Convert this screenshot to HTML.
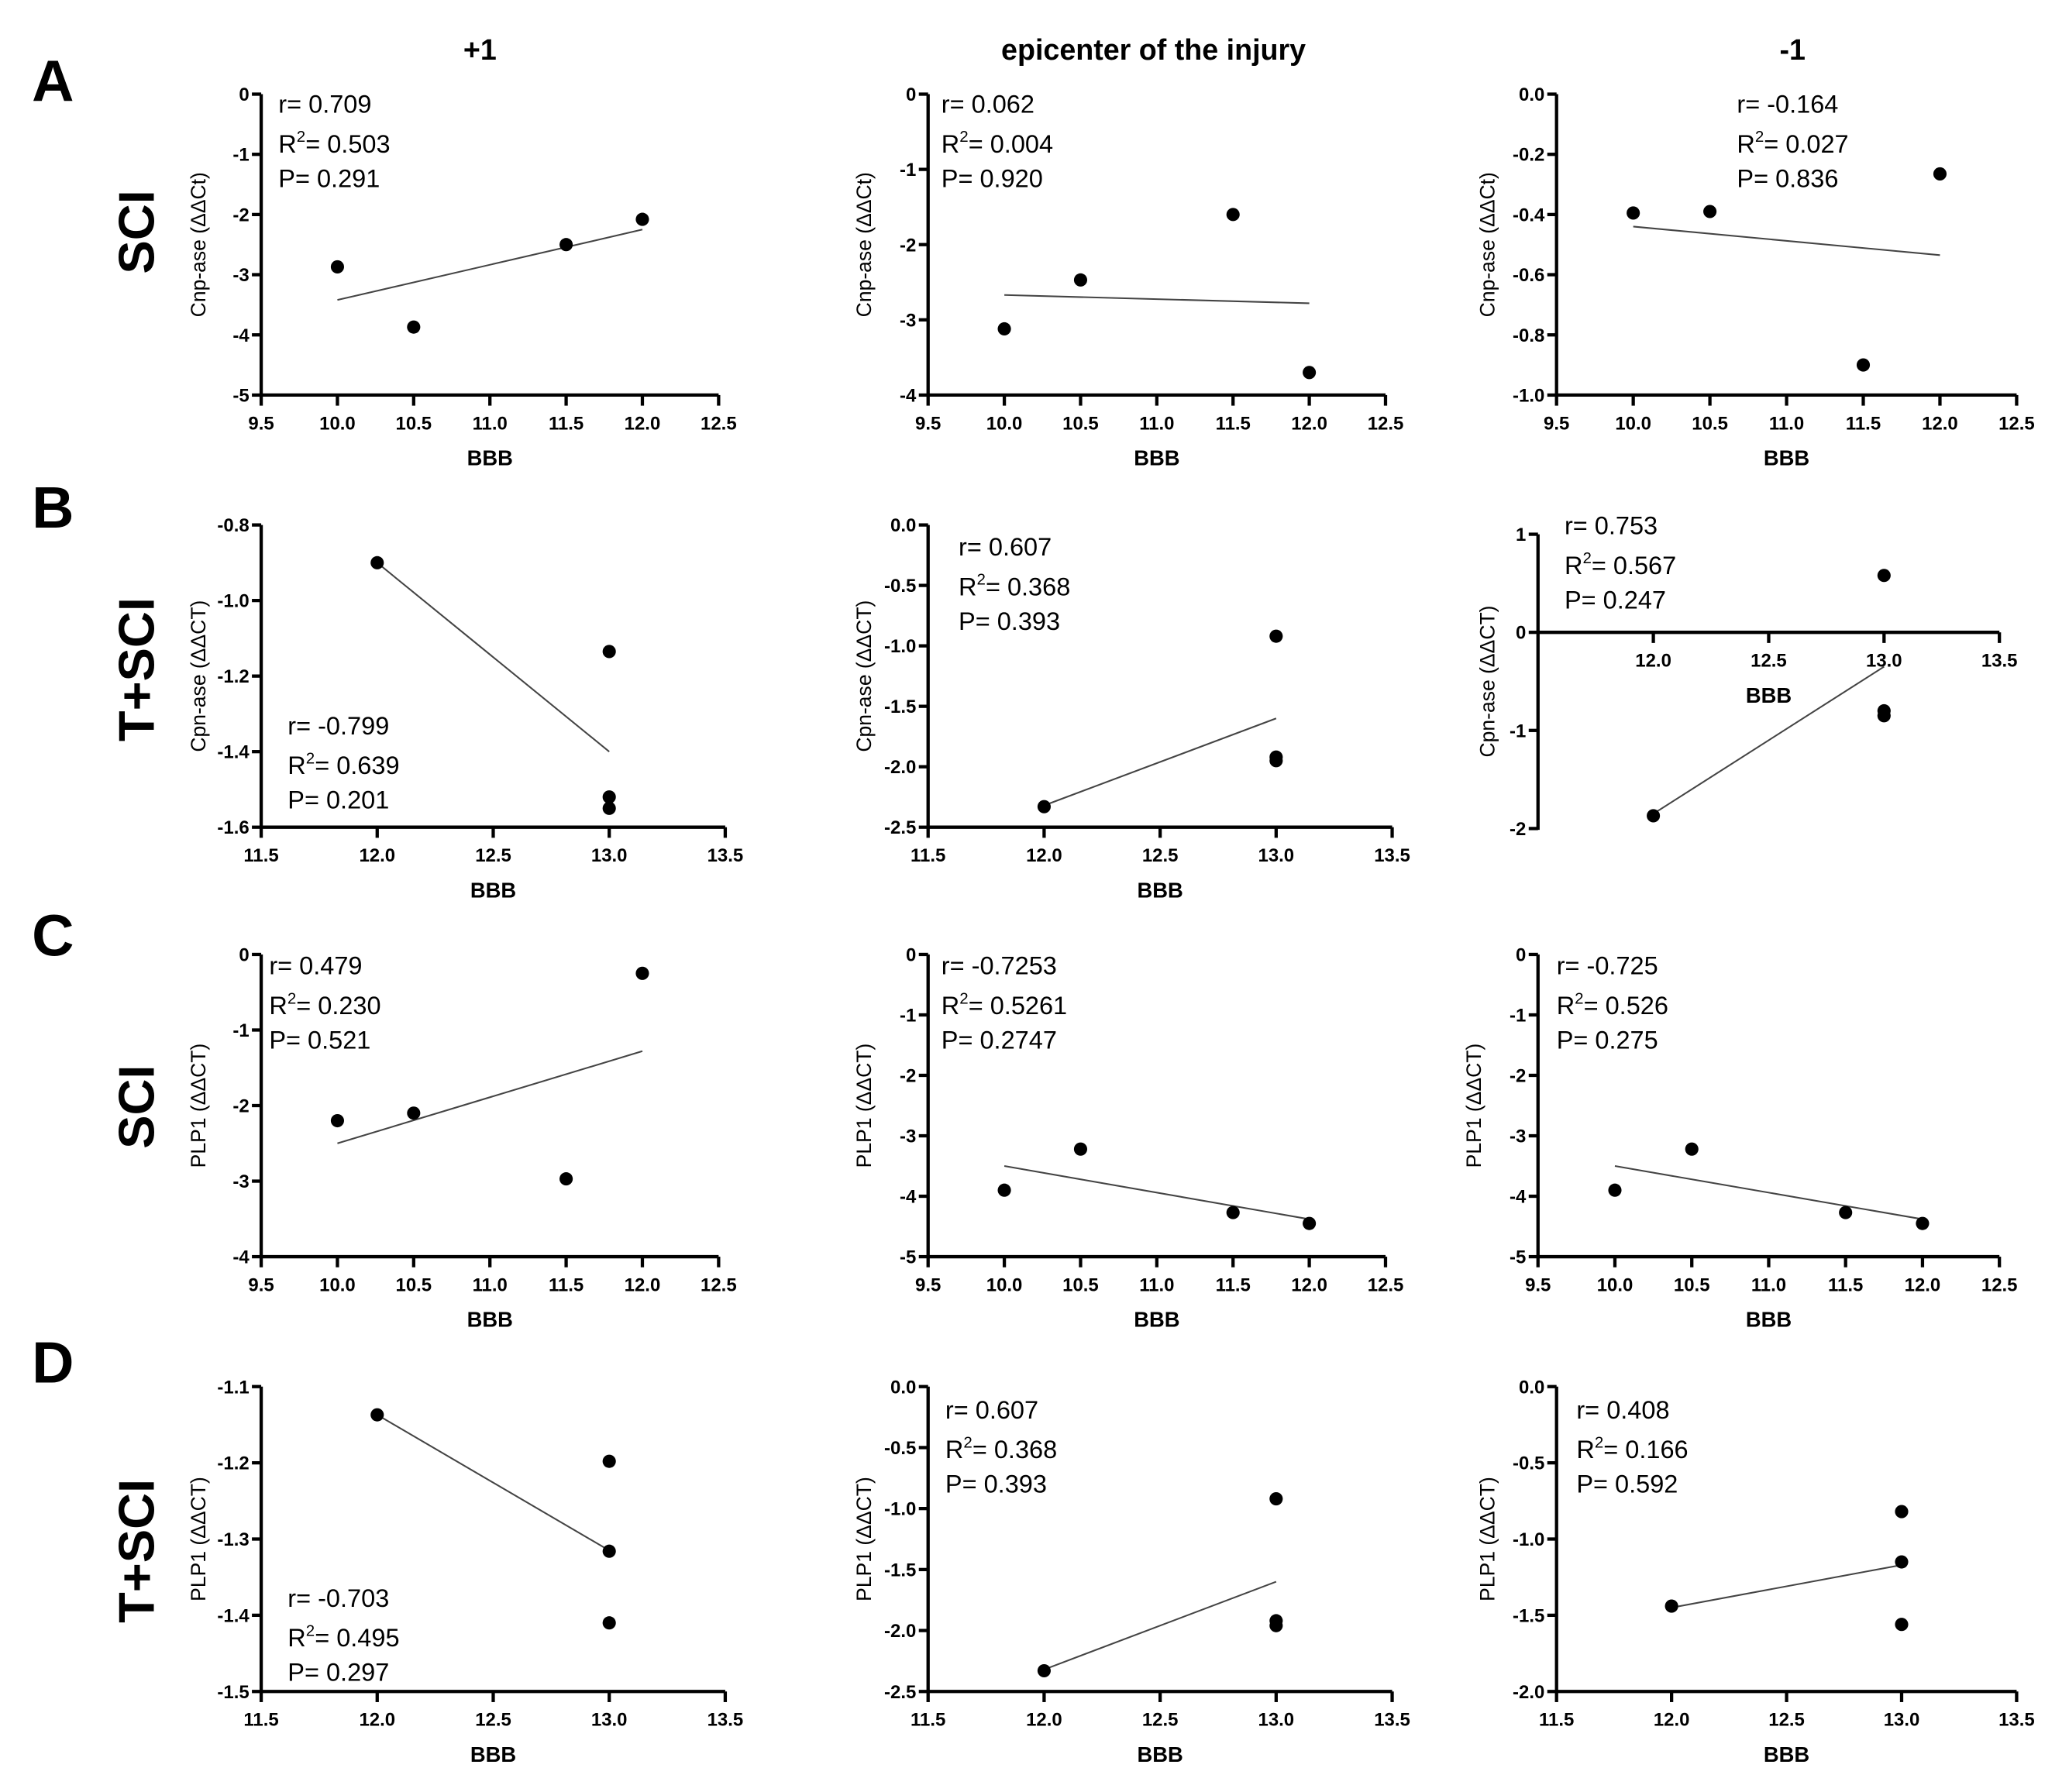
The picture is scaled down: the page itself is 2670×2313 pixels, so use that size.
<!DOCTYPE html>
<html><head><meta charset="utf-8"><style>
html,body{margin:0;padding:0;background:#fff}
svg{display:block}
text{font-family:"Liberation Sans",Arial,sans-serif;fill:#000}
</style></head><body>
<svg id="fig" width="2670" height="2313" viewBox="0 0 1560.5 1351.8" xmlns="http://www.w3.org/2000/svg"></svg>
<script>
const NS="http://www.w3.org/2000/svg";
const svg=document.getElementById('fig');
// ---- data ----
const xsA=[10,10.5,11.5,12];
const ysA1=[-2.87,-3.87,-2.5,-2.08];
const ysA2=[-3.12,-2.47,-1.6,-3.7];
const ysA3=[-0.395,-0.39,-0.9,-0.265];
const xsB=[12,13,13,13];
const ysB1=[-0.9,-1.135,-1.52,-1.55];
const ysB2=[-2.33,-0.92,-1.92,-1.95];
const ysB3=[-1.87,0.58,-0.8,-0.85];
const ysC1=[-2.2,-2.1,-2.97,-0.25];
const ysC2=[-3.9,-3.22,-4.27,-4.45];
const ysC3=[-3.9,-3.22,-4.27,-4.45];
const ysD1=[-1.137,-1.198,-1.316,-1.41];
const ysD2=[-2.33,-0.92,-1.92,-1.96];
const ysD3=[-1.44,-0.82,-1.15,-1.56];
const fitA1=[-3.42,-2.25],fitA2=[-2.67,-2.78],fitA3=[-0.44,-0.535];
const fitB1=[-0.9,-1.4],fitB2=[-2.32,-1.6],fitB3=[-1.85,-0.35];
const fitC1=[-2.5,-1.28],fitC2=[-3.5,-4.38],fitC3=[-3.5,-4.38];
const fitD1=[-1.137,-1.315],fitD2=[-2.32,-1.6],fitD3=[-1.45,-1.17];
const xTicksA=[9.5,10,10.5,11,11.5,12,12.5];
const xTicksB=[11.5,12,12.5,13,13.5];
const statsA1=["0.709","0.503","0.291"],statsA2=["0.062","0.004","0.920"],statsA3=["-0.164","0.027","0.836"];
const statsB1=["-0.799","0.639","0.201"],statsB2=["0.607","0.368","0.393"],statsB3=["0.753","0.567","0.247"];
const statsC1=["0.479","0.230","0.521"],statsC2=["-0.7253","0.5261","0.2747"],statsC3=["-0.725","0.526","0.275"];
const statsD1=["-0.703","0.495","0.297"],statsD2=["0.607","0.368","0.393"],statsD3=["0.408","0.166","0.592"];

function el(tag,attrs,parent){const e=document.createElementNS(NS,tag);for(const k in attrs)e.setAttribute(k,attrs[k]);(parent||svg).appendChild(e);return e;}
function txt(s,attrs,parent){const e=el('text',attrs,parent);e.textContent=s;return e;}

const panels=[
 {id:'a1',x0:197,x1:542,y0:71,y1:298,xmin:9.5,xmax:12.5,ymin:-5,ymax:0,yt:[0,-1,-2,-3,-4,-5],yd:0,xt:xTicksA,xs:xsA,ys:ysA1,fx:[10,12],fy:fitA1,st:statsA1,tx:210,ty:78,title:"Cnp-ase (ΔΔCt)",tcx:150},
 {id:'a2',x0:700,x1:1045,y0:71,y1:298,xmin:9.5,xmax:12.5,ymin:-4,ymax:0,yt:[0,-1,-2,-3,-4],yd:0,xt:xTicksA,xs:xsA,ys:ysA2,fx:[10,12],fy:fitA2,st:statsA2,tx:710,ty:78,title:"Cnp-ase (ΔΔCt)",tcx:652},
 {id:'a3',x0:1174,x1:1521,y0:71,y1:298,xmin:9.5,xmax:12.5,ymin:-1,ymax:0,yt:[0,-0.2,-0.4,-0.6,-0.8,-1.0],yd:1,xt:xTicksA,xs:xsA,ys:ysA3,fx:[10,12],fy:fitA3,st:statsA3,tx:1310,ty:78,title:"Cnp-ase (ΔΔCt)",tcx:1122},
 {id:'b1',x0:197,x1:547,y0:396,y1:624,xmin:11.5,xmax:13.5,ymin:-1.6,ymax:-0.8,yt:[-0.8,-1.0,-1.2,-1.4,-1.6],yd:1,xt:xTicksB,xs:xsB,ys:ysB1,fx:[12,13],fy:fitB1,st:statsB1,tx:217,ty:547,title:"Cpn-ase (ΔΔCT)",tcx:150},
 {id:'b2',x0:700,x1:1050,y0:396,y1:624,xmin:11.5,xmax:13.5,ymin:-2.5,ymax:0,yt:[0,-0.5,-1,-1.5,-2,-2.5],yd:1,xt:xTicksB,xs:xsB,ys:ysB2,fx:[12,13],fy:fitB2,st:statsB2,tx:723,ty:412,title:"Cpn-ase (ΔΔCT)",tcx:652},
 {id:'b3',x0:1160,x1:1508,y0:403,y1:625,xmin:11.5,xmax:13.5,ymin:-2,ymax:1,yt:[1,0,-1,-2],yd:0,xt:xTicksB,xs:xsB,ys:ysB3,fx:[12,13],fy:fitB3,st:statsB3,tx:1180,ty:396,title:"Cpn-ase (ΔΔCT)",tcx:1122,xAxisAt:0},
 {id:'c1',x0:197,x1:542,y0:720,y1:948,xmin:9.5,xmax:12.5,ymin:-4,ymax:0,yt:[0,-1,-2,-3,-4],yd:0,xt:xTicksA,xs:xsA,ys:ysC1,fx:[10,12],fy:fitC1,st:statsC1,tx:203,ty:728,title:"PLP1 (ΔΔCT)",tcx:150},
 {id:'c2',x0:700,x1:1045,y0:720,y1:948,xmin:9.5,xmax:12.5,ymin:-5,ymax:0,yt:[0,-1,-2,-3,-4,-5],yd:0,xt:xTicksA,xs:xsA,ys:ysC2,fx:[10,12],fy:fitC2,st:statsC2,tx:710,ty:728,title:"PLP1 (ΔΔCT)",tcx:652},
 {id:'c3',x0:1160,x1:1508,y0:720,y1:948,xmin:9.5,xmax:12.5,ymin:-5,ymax:0,yt:[0,-1,-2,-3,-4,-5],yd:0,xt:xTicksA,xs:xsA,ys:ysC3,fx:[10,12],fy:fitC3,st:statsC3,tx:1174,ty:728,title:"PLP1 (ΔΔCT)",tcx:1112},
 {id:'d1',x0:197,x1:547,y0:1046,y1:1276,xmin:11.5,xmax:13.5,ymin:-1.5,ymax:-1.1,yt:[-1.1,-1.2,-1.3,-1.4,-1.5],yd:1,xt:xTicksB,xs:xsB,ys:ysD1,fx:[12,13],fy:fitD1,st:statsD1,tx:217,ty:1205,title:"PLP1 (ΔΔCT)",tcx:150},
 {id:'d2',x0:700,x1:1050,y0:1046,y1:1276,xmin:11.5,xmax:13.5,ymin:-2.5,ymax:0,yt:[0,-0.5,-1,-1.5,-2,-2.5],yd:1,xt:xTicksB,xs:xsB,ys:ysD2,fx:[12,13],fy:fitD2,st:statsD2,tx:713,ty:1063,title:"PLP1 (ΔΔCT)",tcx:652},
 {id:'d3',x0:1174,x1:1521,y0:1046,y1:1276,xmin:11.5,xmax:13.5,ymin:-2,ymax:0,yt:[0,-0.5,-1,-1.5,-2],yd:1,xt:xTicksB,xs:xsB,ys:ysD3,fx:[12,13],fy:fitD3,st:statsD3,tx:1189,ty:1063,title:"PLP1 (ΔΔCT)",tcx:1122}
];

panels.forEach(p=>{
  const g=el('g',{});
  
  
  const X=v=>p.x0+(v-p.xmin)/(p.xmax-p.xmin)*(p.x1-p.x0);
  const Y=v=>p.y1-(v-p.ymin)/(p.ymax-p.ymin)*(p.y1-p.y0);
  const xa=p.xAxisAt!==undefined?Y(p.xAxisAt):p.y1;
  const ya=el('line',{x1:p.x0,y1:p.y0,x2:p.x0,y2:p.y1+1,stroke:'#000','stroke-width':2.5},g);
  
  
  p.yt.forEach(v=>{
    el('line',{x1:p.x0-7,y1:Y(v),x2:p.x0,y2:Y(v),stroke:'#000','stroke-width':2.5},g);
    const t=txt(v===0&&p.yd===0?'0':v.toFixed(p.yd),{x:p.x0-9,y:Y(v)+5,'text-anchor':'end','font-size':14,'font-weight':'bold'},g);
    
    
  });
  const xl=el('line',{x1:p.x0-1,y1:xa,x2:p.x1,y2:xa,stroke:'#000','stroke-width':2.5},g);
  
  
  p.xt.forEach(v=>{
    if(p.xAxisAt!==undefined&&v===p.xmin)return;
    el('line',{x1:X(v),y1:xa,x2:X(v),y2:xa+8,stroke:'#000','stroke-width':2.5},g);
    const t=txt(v.toFixed(1),{x:X(v),y:xa+26,'text-anchor':'middle','font-size':14,'font-weight':'bold'},g);
    
    
  });
  const bl=txt('BBB',{x:(p.x0+p.x1)/2,y:xa+53,'text-anchor':'middle','font-size':16,'font-weight':'bold'},g);
  
  
  const yt=txt(p.title,{x:0,y:0,'text-anchor':'middle','font-size':15.5,transform:`translate(${p.tcx+5},${(p.y0+p.y1)/2}) rotate(-90)`},g);
  
  
  const fl=el('line',{x1:X(p.fx[0]),y1:Y(p.fy[0]),x2:X(p.fx[1]),y2:Y(p.fy[1]),stroke:'#444','stroke-width':1.2},g);
  
  
  p.xs.forEach((xv,i)=>{
    const c=el('circle',{cx:X(xv),cy:Y(p.ys[i]),r:5,fill:'#000'},g);
    
    
  });
  const s1=txt('r= '+p.st[0],{x:p.tx,y:p.ty+7,'font-size':19},g);
  
  
  const s2=el('text',{x:p.tx,y:p.ty+37,'font-size':19},g);
  s2.innerHTML='R<tspan dy="-8" font-size="12">2</tspan><tspan dy="8">= '+p.st[1]+'</tspan>';
  
  
  const s3=txt('P= '+p.st[2],{x:p.tx,y:p.ty+63,'font-size':19},g);
  
  
});

[['A',58],['B',380],['C',703],['D',1025]].forEach(([l,y])=>{
  const t=txt(l,{x:24,y:y+18,'font-size':44,'font-weight':'bold'});
  
  
});
[['SCI',175],['T+SCI',505],['SCI',835],['T+SCI',1170]].forEach(([l,y])=>{
  const t=txt(l,{x:0,y:0,'text-anchor':'middle','font-size':38,'font-weight':'bold',transform:`translate(116,${y}) rotate(-90)`});
  
  
});
[['+1',362],['epicenter of the injury',870],['-1',1352]].forEach(([l,x])=>{
  const t=txt(l,{x:x,y:45,'text-anchor':'middle','font-size':22,'font-weight':'bold'});
  
  
});
</script>
</body></html>
